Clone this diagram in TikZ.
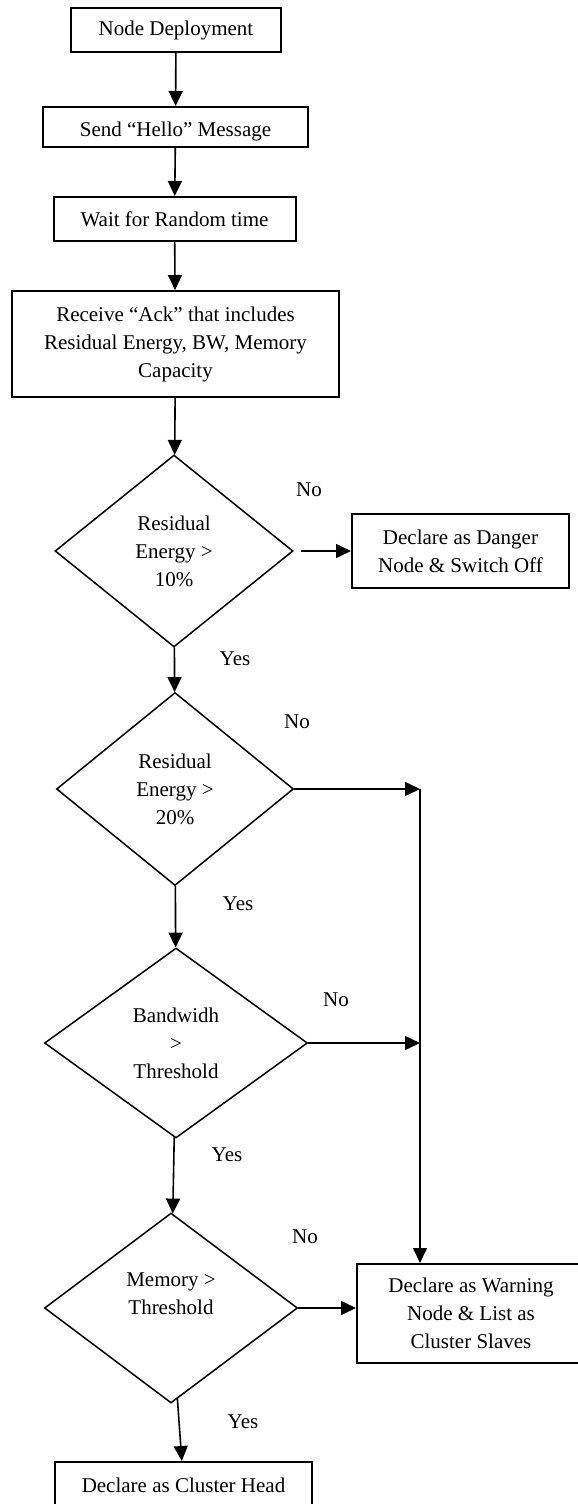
\documentclass[tikz,border=0pt]{standalone}
\usepackage{fontspec}
\setmainfont{Liberation Serif}
\usepackage{tikz}
\usetikzlibrary{shapes.geometric,arrows.meta}
\tikzset{
    process/.style = {rectangle, text centered, draw=black, line width=1pt, inner sep=2pt, font=\fontsize{10.5}{14}\selectfont},
    decision/.style = {diamond, aspect=1.25, inner sep=0pt, align=center, draw=black, line width=0.75pt, font=\fontsize{10.5}{14}\selectfont},
    answer/.style = {font=\fontsize{10.5}{14}\selectfont},
    arrow/.style = {line width=0.8pt,-{Triangle[length=7.5pt,width=7pt]}}
}
\begin{document}
\begin{tikzpicture}[x=0.5pt,y=-0.5pt]
\useasboundingbox (0,0) rectangle (578,1504);
\node (deploy) [process, minimum width=105pt, minimum height=22pt] at (176,30) {Node Deployment};
\node (hello) [process, minimum width=132.5pt, minimum height=20pt, text height=9pt, text depth=0pt] at (175.5,127) {Send “Hello” Message};
\node (wait) [process, minimum width=121pt, minimum height=22pt] at (174.5,219) {Wait for Random time};
\node (ack) [process, align=center, minimum width=163.5pt, minimum height=53pt] at (175.5,344) {Receive “Ack” that includes\\Residual Energy, BW, Memory\\Capacity};
\node (energyten) [decision, minimum width=119pt, minimum height=96pt] at (174,551) {Residual\\Energy >\\10\%};
\node (danger) [process, align=center, minimum width=108.5pt, minimum height=37pt] at (460.5,551) {Declare as Danger\\Node \& Switch Off};
\node (energytwenty) [decision, minimum width=118.5pt, minimum height=96.5pt] at (175,789) {Residual\\Energy >\\20\%};
\node (bandwidth) [decision, minimum width=131.5pt, minimum height=95pt] at (176,1043) {Bandwidh\\>\\Threshold};
\node (memory) [decision, minimum width=126.5pt, minimum height=95pt] at (171,1308) {Memory >\\Threshold\\\mbox{}};
\node (warning) [process, align=center, minimum width=114pt, minimum height=49.5pt] at (471,1313.5) {Declare as Warning\\Node \& List as\\Cluster Slaves};
\node (head) [process, minimum width=128.5pt, minimum height=23pt] at (183.5,1485) {Declare as Cluster Head};

% yes / no labels
\node (no1) [answer] at (309,490) {No};
\node (yes1) [answer] at (235,659) {Yes};
\node (no2) [answer] at (297,722) {No};
\node (yes2) [answer] at (238,904) {Yes};
\node (no3) [answer] at (336,1000) {No};
\node (yes3) [answer] at (227,1155) {Yes};
\node (no4) [answer] at (305,1237) {No};
\node (yes4) [answer] at (243,1422) {Yes};

\draw [arrow] (deploy) -- (hello);
\draw [arrow] (hello) -- (wait);
\draw [arrow] (wait) -- (ack);
\draw [arrow] (ack) -- (energyten);
\draw [arrow] (energyten) -- (energytwenty);
\draw [arrow] (energytwenty) -- (bandwidth);
\draw [arrow] (bandwidth) -- (memory);
\draw [arrow] (memory) -- (head);
\draw [arrow] ([xshift=3.5pt]energyten.east) -- (danger.west);

\coordinate (bus) at (420,789);
\draw [arrow] (energytwenty.east) -- (bus);
\draw [arrow] (bandwidth.east) -- (bandwidth.east -| bus);
\draw [arrow] (bus) -- (bus |- warning.north);
\draw [arrow] (memory.east) -- (memory.east -| warning.west);
\end{tikzpicture}
\end{document}
